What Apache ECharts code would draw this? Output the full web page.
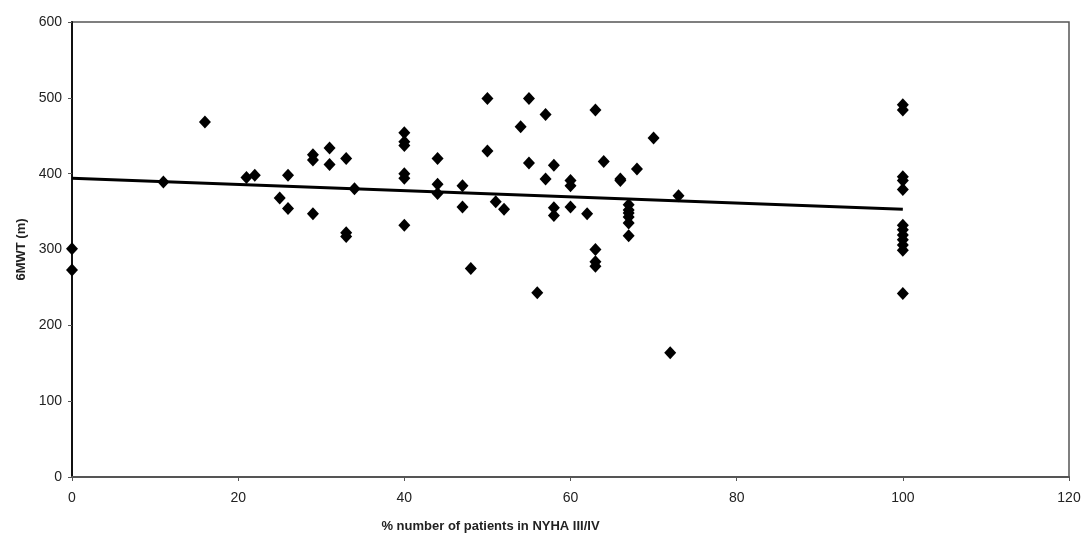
<!DOCTYPE html>
<html>
<head>
<meta charset="utf-8">
<script src="https://cdn.jsdelivr.net/npm/echarts@6/dist/echarts.min.js"></script>
<style>
  html, body { margin: 0; padding: 0; background: #fff; }
  #main { width: 1084px; height: 533px; }
</style>
</head>
<body>
<div id="main"></div>
<script>
// % patients in NYHA III/IV
var nyha = [
    0, 0, 11, 16, 21, 22, 25, 26, 26, 29, 29, 29, 31, 31, 33, 33, 33, 34,
    40, 40, 40, 40, 40, 40, 44, 44, 44, 47, 47, 48, 50, 50, 51, 52, 54,
    55, 55, 56, 57, 57, 58, 58, 58, 60, 60, 60, 62, 63, 63, 63, 63, 64,
    66, 66, 67, 67, 67, 67, 67, 67, 68, 70, 72, 73,
    100, 100, 100, 100, 100, 100, 100, 100, 100, 100, 100, 100
];
// 6MWT (m)
var walk = [
    301, 273, 389, 468, 395, 398, 368, 398, 354, 425, 418, 347, 434, 412, 420, 322, 317, 380,
    454, 442, 437, 400, 394, 332, 420, 386, 374, 384, 356, 275, 499, 430, 363, 353, 462,
    499, 414, 243, 478, 393, 411, 355, 345, 391, 384, 356, 347, 484, 300, 284, 278, 416,
    393, 391, 359, 352, 348, 343, 335, 318, 406, 447, 164, 371,
    491, 484, 396, 391, 379, 332, 326, 319, 313, 306, 299, 242
];
// linear trend line end points
var trendX = [0, 100];
var trendY = [394, 353];

var xTicks = [0, 20, 40, 60, 80, 100, 120];
var yTicks = [0, 100, 200, 300, 400, 500, 600];

var chart = echarts.init(document.getElementById('main'));

var points = nyha.map(function (x, i) { return [x, walk[i]]; });
var trend = trendX.map(function (x, i) { return [x, trendY[i]]; });

var axisFont = { color: '#222', fontSize: 14, fontFamily: 'Liberation Sans, Arial, sans-serif' };
var nameFont = { color: '#222', fontSize: 13, fontWeight: 'bold', fontFamily: 'Liberation Sans, Arial, sans-serif' };

var option = {
    animation: false,
    backgroundColor: '#fff',
    grid: {
        left: 72, right: 15, top: 22, bottom: 56,
        outerBoundsMode: 'none',
        show: true, borderColor: '#555', borderWidth: 1.5, backgroundColor: 'transparent'
    },
    xAxis: {
        type: 'value',
        min: xTicks[0], max: xTicks[xTicks.length - 1], interval: 20,
        name: '% number of patients in NYHA III/IV',
        nameLocation: 'middle', nameGap: 43,
        nameTextStyle: Object.assign({ padding: [0, 160, 0, 0] }, nameFont),
        axisLine: { lineStyle: { color: '#555', width: 2 } },
        axisTick: { show: true, length: 4, lineStyle: { color: '#555' } },
        axisLabel: Object.assign({ margin: 14 }, axisFont),
        splitLine: { show: false }
    },
    yAxis: {
        type: 'value',
        min: yTicks[0], max: yTicks[yTicks.length - 1], interval: 100,
        name: '6MWT (m)',
        nameLocation: 'middle', nameGap: 42, nameRotate: 90,
        nameTextStyle: nameFont,
        axisLine: { show: true, lineStyle: { color: '#111', width: 2 } },
        axisTick: { show: true, length: 4, lineStyle: { color: '#555' } },
        axisLabel: Object.assign({ margin: 10 }, axisFont),
        splitLine: { show: false }
    },
    series: [
        {
            type: 'line',
            data: trend,
            symbol: 'none',
            lineStyle: { color: '#000', width: 3 },
            z: 3
        },
        {
            type: 'scatter',
            data: points,
            symbol: 'diamond',
            symbolSize: [12, 13],
            itemStyle: { color: '#000', opacity: 1 },
            z: 4
        }
    ]
};

chart.setOption(option);
</script>
</body>
</html>
